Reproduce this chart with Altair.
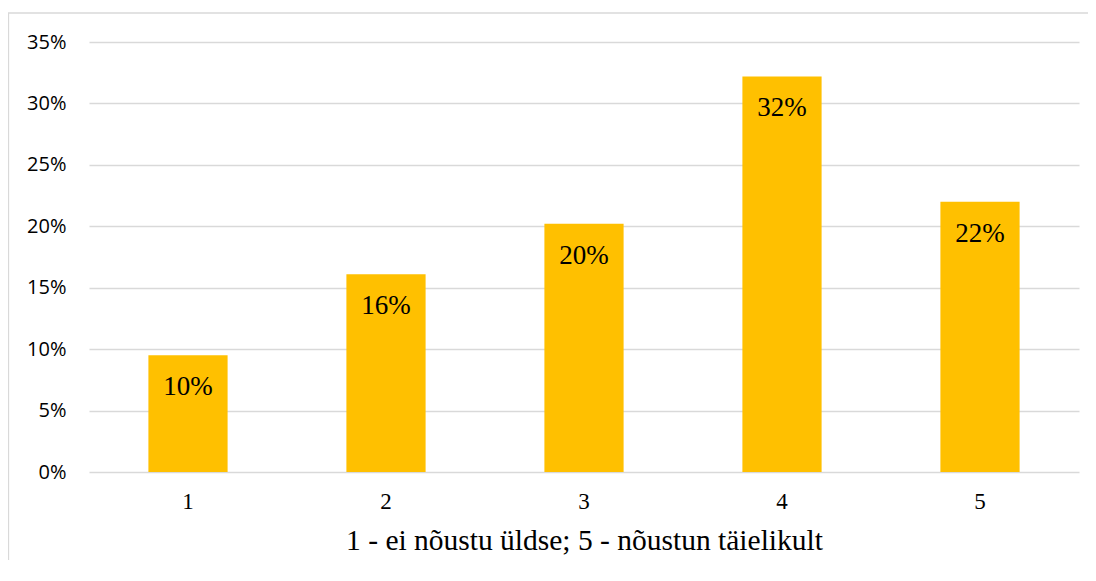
import altair as alt
import pandas as pd

categories = ["1", "2", "3", "4", "5"]
shares = [0.095, 0.161, 0.202, 0.322, 0.220]
y_ticks = [0, 0.05, 0.10, 0.15, 0.20, 0.25, 0.30, 0.35]
x_title = "1 - ei nõustu üldse; 5 - nõustun täielikult"

df = pd.DataFrame({"cat": categories, "share": shares})

W, H = 990, 430
SANS = "Open Sans"
SERIF = "Liberation Serif"

x_enc = alt.X(
    "cat:N",
    sort=categories,
    scale=alt.Scale(paddingInner=0.6, paddingOuter=0.3),
    axis=alt.Axis(title=x_title, labelAngle=0),
)
y_enc = alt.Y(
    "share:Q",
    scale=alt.Scale(domain=[0, 0.35], nice=False),
    axis=alt.Axis(title=None, values=y_ticks, format=".0%"),
)

bars = alt.Chart(df).mark_bar(color="#FFC000").encode(x=x_enc, y=y_enc)
labels = alt.Chart(df).mark_text(
    font=SERIF, fontSize=27, color="#000000", baseline="alphabetic", dy=40
).encode(
    x=alt.X("cat:N", sort=categories, title=x_title),
    y=alt.Y("share:Q", title=None),
    text=alt.Text("share:Q", format=".0%"),
)

border_df = pd.DataFrame({"k": [0]})
frame = alt.Chart(border_df).mark_rect(
    fill=None, fillOpacity=0, stroke="#d9d9d9", strokeWidth=1.3
).encode(
    x=alt.value(-80.5), x2=alt.value(W + 60), y=alt.value(-29), y2=alt.value(H + 200)
)

chart = (
    alt.layer(frame, bars, labels)
    .properties(
        width=W,
        height=H,
        padding={"left": 81, "top": 34, "right": 9, "bottom": 88},
        autosize=alt.AutoSizeParams(type="none"),
    )
    .configure_view(stroke=None)
    .configure_axisX(
        labelFont=SERIF,
        labelFontSize=23,
        labelColor="#000000",
        labelPadding=18,
        ticks=False,
        domain=False,
        grid=False,
        titleFont=SERIF,
        titleFontSize=29.5,
        titleFontWeight="normal",
        titleColor="#000000",
        titleBaseline="alphabetic",
        titleY=77,
    )
    .configure_axisY(
        labelFont=SANS,
        labelFontSize=20,
        labelColor="#000000",
        labelPadding=23,
        ticks=False,
        domain=False,
        grid=True,
        gridColor="#d9d9d9",
        gridWidth=1.3,
    )
)

chart.save("out.html", embed_options={"renderer": "svg", "actions": False})
